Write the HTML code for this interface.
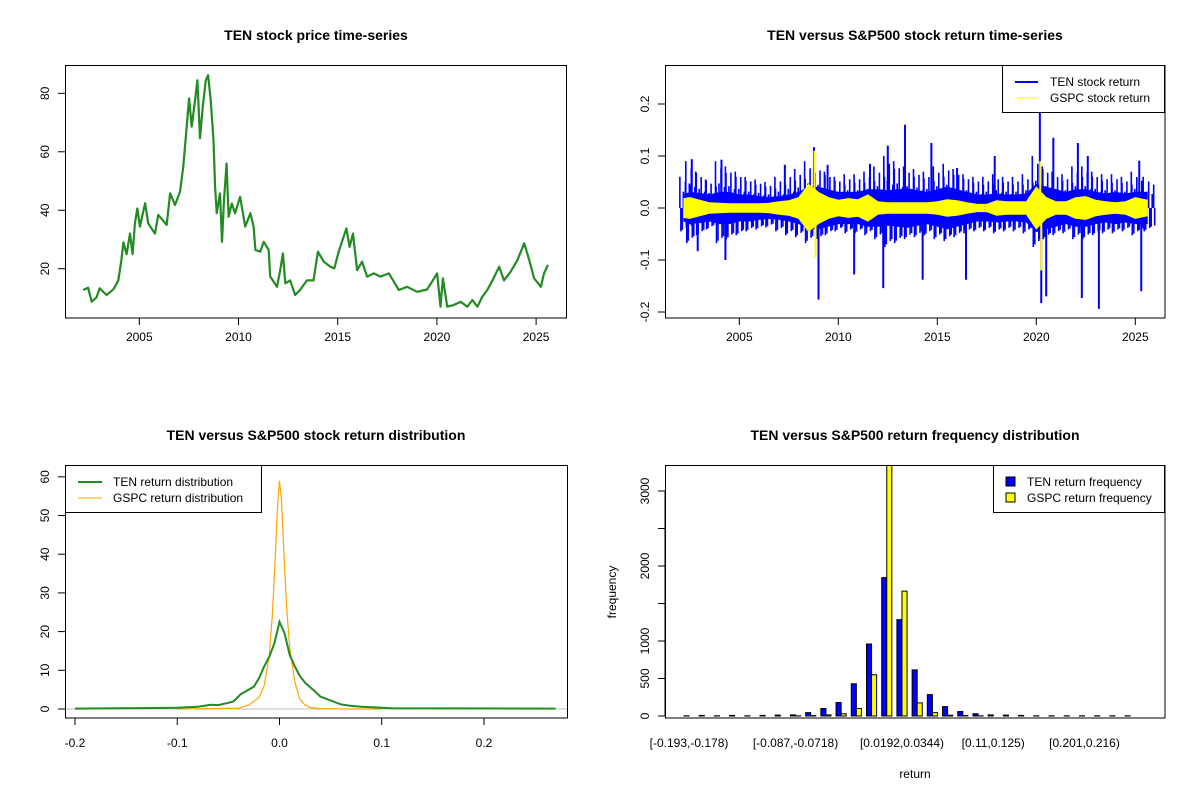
<!DOCTYPE html>
<html><head><meta charset="utf-8"><style>
html,body{margin:0;padding:0;background:#fff;}
svg{display:block;font-family:"Liberation Sans",Arial,sans-serif;}
</style></head><body>
<svg id="chart" width="1200" height="800" viewBox="0 0 1200 800" xmlns="http://www.w3.org/2000/svg">
<defs>
<clipPath id="clipTL"><rect x="65" y="65" width="501" height="253"/></clipPath>
<clipPath id="clipTR"><rect x="665" y="65" width="500" height="253"/></clipPath>
<clipPath id="clipBL"><rect x="65" y="465" width="502" height="253"/></clipPath>
<clipPath id="clipBR"><rect x="665" y="465" width="500" height="253"/></clipPath>
</defs>
</svg>
<script>
// ---------- DATA ----------
const priceYears=[2002.17,2002.42,2002.6,2002.85,2003.0,2003.35,2003.7,2003.94,2004.1,2004.2,2004.36,2004.53,2004.66,2004.78,2004.9,2005.03,2005.29,2005.45,2005.79,2005.96,2006.38,2006.55,2006.8,2007.05,2007.22,2007.39,2007.51,2007.64,2007.81,2007.93,2008.06,2008.2,2008.35,2008.47,2008.6,2008.74,2008.82,2008.9,2009.07,2009.17,2009.27,2009.4,2009.5,2009.66,2009.83,2010.08,2010.34,2010.6,2010.76,2010.85,2011.1,2011.27,2011.52,2011.6,2011.77,2011.94,2012.1,2012.24,2012.36,2012.6,2012.86,2013.1,2013.45,2013.78,2014.0,2014.3,2014.63,2014.83,2015.05,2015.27,2015.44,2015.6,2015.77,2015.98,2016.23,2016.48,2016.82,2017.15,2017.58,2017.83,2018.08,2018.5,2019.0,2019.5,2019.76,2020.01,2020.18,2020.3,2020.52,2020.86,2021.2,2021.53,2021.79,2022.04,2022.29,2022.54,2022.8,2023.14,2023.38,2023.72,2024.06,2024.4,2024.65,2024.9,2025.24,2025.4,2025.6];
const priceValues=[12.7,13.5,8.7,10.2,13.3,11,13,16,23,29,25,32,25,35.5,40.6,34.4,42.4,35.5,32,38.4,35,45.8,41.8,46.3,55,68.6,78.3,68.6,77.7,84.5,64.6,75.5,84.5,86.2,77.7,64,48,39,45.8,29.2,43.5,56,37.8,42.3,39,44.6,34.4,39,34.4,26.4,25.8,29.2,26.4,17.3,15.6,13.8,19.5,25.2,15,16,11,12.7,16,16,25.8,22.4,20.7,20.1,25.8,30.4,33.8,27.5,32,19.5,22.4,17.3,18.4,17.3,18.4,15.6,12.7,13.8,12.1,12.9,15.6,18.4,7,16.7,7,7.6,8.7,7,9.3,7,10.4,12.7,16,20.7,16,19,23,28.7,23,16.7,13.8,18.4,21.3];
const priceTicksX=[2005,2010,2015,2020,2025];
const priceTicksY=[20,40,60,80];

const retYears=[2002.2,2002.5,2003,2003.5,2004,2004.5,2005,2005.5,2006,2006.5,2007,2007.5,2008,2008.5,2009,2009.5,2010,2010.5,2011,2011.5,2012,2012.5,2013,2013.5,2014,2014.5,2015,2015.5,2016,2016.5,2017,2017.5,2018,2018.5,2019,2019.5,2020,2020.5,2021,2021.5,2022,2022.5,2023,2023.5,2024,2024.5,2025,2025.6];
const tenCore=[0.025,0.03,0.028,0.025,0.03,0.03,0.025,0.025,0.022,0.02,0.022,0.025,0.03,0.04,0.04,0.035,0.03,0.03,0.03,0.035,0.035,0.033,0.035,0.037,0.033,0.03,0.035,0.04,0.035,0.03,0.025,0.025,0.027,0.025,0.025,0.027,0.045,0.04,0.035,0.03,0.035,0.035,0.03,0.027,0.03,0.027,0.03,0.03];
const tenPeak=[0.06,0.09,0.07,0.055,0.09,0.08,0.07,0.06,0.055,0.05,0.06,0.07,0.075,0.09,0.085,0.07,0.06,0.065,0.065,0.07,0.08,0.1,0.09,0.08,0.075,0.07,0.08,0.085,0.075,0.065,0.06,0.06,0.065,0.06,0.06,0.065,0.1,0.08,0.07,0.065,0.08,0.08,0.07,0.065,0.065,0.06,0.07,0.06];
const gspcCore=[0.018,0.02,0.015,0.01,0.009,0.008,0.008,0.008,0.008,0.009,0.012,0.014,0.02,0.045,0.03,0.02,0.015,0.018,0.016,0.025,0.012,0.01,0.01,0.01,0.01,0.01,0.012,0.016,0.014,0.01,0.007,0.007,0.014,0.012,0.012,0.012,0.04,0.02,0.012,0.012,0.02,0.022,0.015,0.012,0.01,0.012,0.02,0.015];
const spikeYears=[2002.6,2002.9,2004.1,2004.3,2007.3,2008.77,2009.0,2009.46,2010.8,2011.6,2012.27,2012.5,2013.37,2014.26,2014.7,2016.0,2016.45,2017.9,2020.18,2020.25,2020.5,2020.86,2022.1,2022.3,2022.6,2023.16,2025.2,2025.3];
const spikeValues=[0.094,-0.083,0.093,-0.1,0.083,0.117,-0.176,0.083,-0.128,0.085,-0.154,0.12,0.16,-0.138,0.125,0.077,-0.138,0.1,0.183,-0.183,-0.17,0.135,0.125,-0.173,0.1,-0.194,0.091,-0.16];
const gspcSpikeYears=[2008.8,2008.85,2020.2,2020.25];
const gspcSpikeValues=[0.11,-0.095,0.09,-0.12];
const retTicksY=[-0.2,-0.1,0.0,0.1,0.2];

const densTenX=[-0.2,-0.1,-0.08,-0.067,-0.06,-0.05,-0.045,-0.038,-0.03,-0.025,-0.02,-0.015,-0.01,-0.005,0,0.005,0.01,0.015,0.02,0.025,0.03,0.035,0.04,0.05,0.06,0.07,0.08,0.1,0.11,0.27];
const densTenY=[0.1,0.3,0.6,1.1,1.0,1.6,2.0,3.8,5.0,5.8,8.0,11,13.5,17,22.5,19.5,14,11,8.5,6.8,5.6,4.5,3.2,2.2,1.2,0.8,0.6,0.3,0.2,0.1];
const densGspcX=[-0.1,-0.04,-0.03,-0.02,-0.015,-0.01,-0.007,-0.004,-0.002,0,0.002,0.004,0.007,0.01,0.015,0.02,0.025,0.03,0.04,0.07,0.1];
const densGspcY=[0,0.2,1,3,6,14,24,40,52,59,54,42,26,16,7,2.5,1,0.4,0.1,0,0];
const densTicksX=[-0.2,-0.1,0.0,0.1,0.2];
const densTicksY=[0,10,20,30,40,50,60];

const binLabels=["[-0.193,-0.178)","[-0.178,-0.163)","[-0.163,-0.148)","[-0.148,-0.132)","[-0.132,-0.117)","[-0.117,-0.102)","[-0.102,-0.087)","[-0.087,-0.0718)","[-0.0718,-0.0566)","[-0.0566,-0.0415)","[-0.0415,-0.0263)","[-0.0263,-0.0111)","[-0.0111,0.00404)","[0.00404,0.0192)","[0.0192,0.0344)","[0.0344,0.0496)","[0.0496,0.0647)","[0.0647,0.0799)","[0.0799,0.0951)","[0.0951,0.11)","[0.11,0.125)","[0.125,0.141)","[0.141,0.156)","[0.156,0.171)","[0.171,0.186)","[0.186,0.201)","[0.201,0.216)","[0.216,0.232)","[0.232,0.247)","[0.247,0.262)"];
const tenFreq=[3,8,3,8,3,8,12,15,45,100,180,430,960,1845,1285,615,285,125,60,30,15,12,8,3,3,3,3,3,3,3];
const gspcFreq=[0,0,0,0,0,0,0,2,5,15,30,100,550,3600,1665,175,45,10,5,2,0,0,0,0,0,0,0,0,0,0];
const freqTicksY=[0,500,1000,1500,2000,2500,3000];
const freqTickLabels=["0","500","1000","","2000","","3000"];
const shownBins=[0,7,14,20,26];

// ---------- HELPERS ----------
const NS="http://www.w3.org/2000/svg";
const svg=document.getElementById("chart");
function mk(tag,attrs,parent){const e=document.createElementNS(NS,tag);for(const k in attrs)e.setAttribute(k,attrs[k]);(parent||svg).appendChild(e);return e;}
function txt(x,y,s,size,anchor,parent,rot,bold){const t=mk("text",{x:x,y:y,"font-size":size,"text-anchor":anchor||"middle",fill:"#000"},parent);if(bold)t.setAttribute("font-weight","bold");if(rot)t.setAttribute("transform","rotate(-90 "+x+" "+y+")");t.textContent=s;return t;}

// ---------- PANEL 1: price ----------
const g1=mk("g",{});


const px1=y=>139.3+(y-2005)*19.84, py1=v=>268.7-(v-20)*2.923;
let t=txt(316,40,"TEN stock price time-series",14,"middle",g1,false,true);


let pl=mk("polyline",{points:priceYears.map((y,i)=>px1(y).toFixed(1)+","+py1(priceValues[i]).toFixed(1)).join(" "),fill:"none",stroke:"#228B22","stroke-width":2.2,"stroke-linejoin":"round","clip-path":"url(#clipTL)"},g1);


priceTicksX.forEach(v=>{mk("line",{x1:px1(v),x2:px1(v),y1:318,y2:325,stroke:"#000"},g1);const l=txt(px1(v),341,String(v),12,"middle",g1);

});
priceTicksY.forEach(v=>{mk("line",{x1:58,x2:65,y1:py1(v),y2:py1(v),stroke:"#000"},g1);const l=txt(49,py1(v),String(v),12,"middle",g1,true);

});
mk("rect",{x:65.5,y:65.5,width:501,height:252.5,fill:"none",stroke:"#000"},g1);

// ---------- PANEL 2: returns ----------
const g2=mk("g",{});


const px2=y=>739.3+(y-2005)*19.8, py2=v=>208-v*520;
t=txt(915,40,"TEN versus S&P500 stock return time-series",14,"middle",g2,false,true);


const cg=mk("g",{"clip-path":"url(#clipTR)"},g2);
function band(arr,color,name){const up=[],dn=[];retYears.forEach((y,i)=>{const x=px2(y);up.push(x.toFixed(1)+","+py2(arr[i]).toFixed(1));dn.push(x.toFixed(1)+","+py2(-arr[i]).toFixed(1));});const p=mk("polygon",{points:up.concat(dn.reverse()).join(" "),fill:color,stroke:color,"stroke-width":1},cg);

}
band(tenCore,"#0000FF","ten-return-band");
// texture lines
retYears.forEach((y,i)=>{const x=px2(y);
 [[-4,1],[ -1.5,0.7],[1.5,0.85],[4,0.6],[6.5,0.75]].forEach(([dx,f],k)=>{
  const l=mk("line",{x1:x+dx,x2:x+dx,y1:py2(0),y2:py2((k%2?-1:1)*tenPeak[i]*f),stroke:"#0000FF","stroke-width":1.6},cg);
  
  
  const l2=mk("line",{x1:x+dx+1,x2:x+dx+1,y1:py2(0),y2:py2((k%2?1:-1)*tenPeak[i]*f*0.75),stroke:"#0000FF","stroke-width":1.6},cg);
  
  
 });});
spikeYears.forEach((y,i)=>{const l=mk("line",{x1:px2(y),x2:px2(y),y1:py2(0),y2:py2(spikeValues[i]),stroke:"#0000FF","stroke-width":2},cg);

});
band(gspcCore,"#FFFF00","gspc-return-band");
gspcSpikeYears.forEach((y,i)=>{const l=mk("line",{x1:px2(y),x2:px2(y),y1:py2(0),y2:py2(gspcSpikeValues[i]),stroke:"#FFFF00","stroke-width":2},cg);

});
priceTicksX.forEach(v=>{mk("line",{x1:px2(v),x2:px2(v),y1:318,y2:325,stroke:"#000"},g2);const l=txt(px2(v),341,String(v),12,"middle",g2);

});
retTicksY.forEach(v=>{mk("line",{x1:658,x2:665,y1:py2(v),y2:py2(v),stroke:"#000"},g2);const l=txt(649,py2(v),v.toFixed(1),12,"middle",g2,true);

});
mk("rect",{x:665.5,y:65.5,width:499.5,height:252.5,fill:"none",stroke:"#000"},g2);
const lg2=mk("g",{},g2);


mk("rect",{x:1002.5,y:65.5,width:162,height:47,fill:"#fff",stroke:"#000"},lg2);
mk("line",{x1:1015,x2:1038,y1:82,y2:82,stroke:"#0000FF","stroke-width":2},lg2);
mk("line",{x1:1015,x2:1038,y1:98,y2:98,stroke:"#FFFF00","stroke-width":1},lg2);
txt(1050,86,"TEN stock return",12,"start",lg2);
txt(1050,102,"GSPC stock return",12,"start",lg2);

// ---------- PANEL 3: density ----------
const g3=mk("g",{});


const px3=v=>279.5+v*1022.5, py3=v=>709-v*3.87;
t=txt(316,440,"TEN versus S&P500 stock return distribution",14,"middle",g3,false,true);


const cg3=mk("g",{"clip-path":"url(#clipBL)"},g3);
mk("line",{x1:65,x2:567,y1:py3(0),y2:py3(0),stroke:"#BEBEBE"},cg3);
pl=mk("polyline",{points:densGspcX.map((x,i)=>px3(x).toFixed(1)+","+py3(densGspcY[i]).toFixed(1)).join(" "),fill:"none",stroke:"#FFA500","stroke-width":1.2},cg3);


pl=mk("polyline",{points:densTenX.map((x,i)=>px3(x).toFixed(1)+","+py3(densTenY[i]).toFixed(1)).join(" "),fill:"none",stroke:"#228B22","stroke-width":2},cg3);


densTicksX.forEach(v=>{mk("line",{x1:px3(v),x2:px3(v),y1:718,y2:725,stroke:"#000"},g3);const l=txt(px3(v),747,v.toFixed(1),12,"middle",g3);

});
densTicksY.forEach(v=>{mk("line",{x1:58,x2:65,y1:py3(v),y2:py3(v),stroke:"#000"},g3);const l=txt(49,py3(v),String(v),12,"middle",g3,true);

});
mk("rect",{x:65.5,y:465.5,width:502,height:252.5,fill:"none",stroke:"#000"},g3);
const lg3=mk("g",{},g3);


mk("rect",{x:65.5,y:465.5,width:196,height:47,fill:"#fff",stroke:"#000"},lg3);
mk("line",{x1:78,x2:102,y1:482,y2:482,stroke:"#228B22","stroke-width":2},lg3);
mk("line",{x1:78,x2:102,y1:498,y2:498,stroke:"#FFA500","stroke-width":1},lg3);
txt(113,486,"TEN return distribution",12,"start",lg3);
txt(113,502,"GSPC return distribution",12,"start",lg3);

// ---------- PANEL 4: histogram ----------
const g4=mk("g",{});


const unit=5.07, x0=678.9;
const py4=v=>716-v*0.075;
t=txt(915,440,"TEN versus S&P500 return frequency distribution",14,"middle",g4,false,true);


const cg4=mk("g",{"clip-path":"url(#clipBR)"},g4);
binLabels.forEach((b,i)=>{
 const bx=x0+(1+3*i)*unit;
 const r1=mk("rect",{x:bx,y:py4(tenFreq[i]),width:unit,height:716-py4(tenFreq[i]),fill:"#0000FF",stroke:"#000","stroke-width":1},cg4);
 
 
 const r2=mk("rect",{x:bx+unit,y:py4(gspcFreq[i]),width:unit,height:716-py4(gspcFreq[i]),fill:"#FFFF00",stroke:"#000","stroke-width":1},cg4);
 
 
});
shownBins.forEach(i=>{const l=txt(x0+(2+3*i)*unit,747,binLabels[i],12,"middle",g4);

});
freqTicksY.forEach((v,i)=>{mk("line",{x1:658,x2:665,y1:py4(v),y2:py4(v),stroke:"#000"},g4);if(freqTickLabels[i]){const l=txt(649,py4(v),freqTickLabels[i],12,"middle",g4,true);

}});
mk("line",{x1:665,x2:665,y1:py4(0),y2:py4(3000),stroke:"#000"},g4);
mk("rect",{x:665.5,y:465.5,width:499.5,height:252.5,fill:"none",stroke:"#000"},g4);
t=txt(915,778,"return",12,"middle",g4);


t=txt(616,592,"frequency",12,"middle",g4,true);


const lg4=mk("g",{},g4);


mk("rect",{x:993.5,y:465.5,width:171,height:47,fill:"#fff",stroke:"#000"},lg4);
mk("rect",{x:1006,y:477,width:9,height:9,fill:"#0000FF",stroke:"#000"},lg4);
mk("rect",{x:1006,y:493,width:9,height:9,fill:"#FFFF00",stroke:"#000"},lg4);
txt(1027,486,"TEN return frequency",12,"start",lg4);
txt(1027,502,"GSPC return frequency",12,"start",lg4);
</script>
</body></html>
